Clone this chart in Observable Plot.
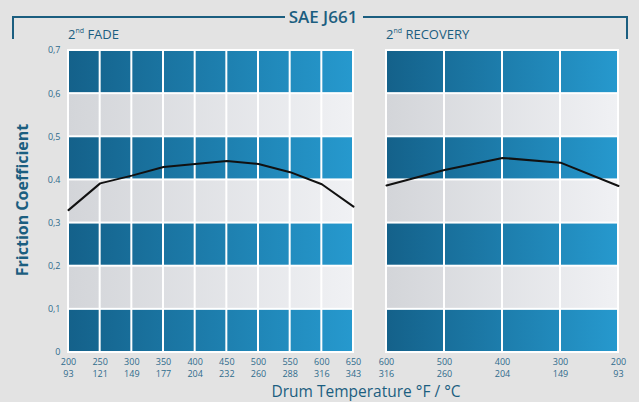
<!DOCTYPE html>
<html>
<head>
<meta charset="utf-8">
<script src="https://cdn.jsdelivr.net/npm/d3@7"></script>
<script src="https://cdn.jsdelivr.net/npm/@observablehq/plot@0.6"></script>
<style>
  html, body { margin: 0; padding: 0; }
  body { width: 639px; height: 402px; background: #e3e3e3; position: relative; overflow: hidden; font-family: "Open Sans", sans-serif; color: #1b5e80; }
  .abs { position: absolute; }
  .bracketL { left: 12px; top: 16px; width: 271px; height: 21px; border-top: 2px solid #1b5e80; border-left: 2px solid #1b5e80; }
  .bracketR { left: 363px; top: 16px; width: 263px; height: 21px; border-top: 2px solid #1b5e80; border-right: 2px solid #1b5e80; }
  .title { left: 283px; width: 80px; top: 5px; text-align: center; font-size: 17px; font-weight: 600; line-height: 24px; }
  .panelTitle { top: 25px; font-size: 13px; line-height: 18px; font-weight: 500; }
  .panelTitle sup { font-size: 7px; vertical-align: 6px; line-height: 0; }
  .ylab { left: 22px; top: 200px; transform: translate(-50%, -50%) rotate(-90deg); font-size: 16px; font-weight: 700; white-space: nowrap; }
  .xlab { left: 266px; width: 200px; top: 381px; text-align: center; font-size: 15.5px; font-weight: 500; white-space: nowrap; line-height: 20px; }
</style>
</head>
<body>
<div class="abs bracketL"></div>
<div class="abs bracketR"></div>
<div class="abs title">SAE J661</div>
<div class="abs panelTitle" style="left:68px">2<sup>nd</sup> FADE</div>
<div class="abs panelTitle" style="left:386px">2<sup>nd</sup> RECOVERY</div>
<div class="abs ylab">Friction Coefficient</div>
<div class="abs xlab">Drum Temperature °F / °C</div>
<div id="left" class="abs" style="left:0;top:0"></div>
<div id="right" class="abs" style="left:370px;top:0"></div>
<script>
// ---- data ----
const fadeTempF = [200, 250, 300, 350, 400, 450, 500, 550, 600, 650];
const fadeTempC = [93, 121, 149, 177, 204, 232, 260, 288, 316, 343];
const fadeMu = [0.33, 0.392, 0.41, 0.43, 0.437, 0.444, 0.437, 0.418, 0.39, 0.338];

const recTempF = [600, 500, 400, 300, 200];
const recTempC = [316, 260, 204, 149, 93];
const recMu = [0.387, 0.423, 0.451, 0.44, 0.386];

const yTicks = [0, 0.1, 0.2, 0.3, 0.4, 0.5, 0.6, 0.7];
const yTickLabels = ["0", "0,1", "0,2", "0,3", "0.4", "0,5", "0,6", "0,7"];
const rowBottoms = [0, 0.1, 0.2, 0.3, 0.4, 0.5, 0.6];
const rowTones = ["dark", "light", "dark", "light", "dark", "light", "dark"];

// ---- styling ----
const tickInk = "#2f6b8c";
const darkStops = ["#14618a", "#2699ce"];
const lightStops = ["#d3d5d9", "#f0f1f4"];

function cellsFor(temps) {
  const cells = [];
  for (let i = 0; i < temps.length - 1; i++) {
    rowBottoms.forEach((b, j) => {
      cells.push({x1: temps[i], x2: temps[i + 1], y1: b, y2: b + 0.1, tone: rowTones[j]});
    });
  }
  return cells;
}

function addGradients(plot, id) {
  const ns = "http://www.w3.org/2000/svg";
  const [r0, r1] = d3.extent(plot.scale("x").range);
  const defs = document.createElementNS(ns, "defs");
  for (const [name, stops] of [["dark", darkStops], ["light", lightStops]]) {
    const g = document.createElementNS(ns, "linearGradient");
    g.setAttribute("id", id + name);
    g.setAttribute("gradientUnits", "userSpaceOnUse");
    g.setAttribute("x1", r0); g.setAttribute("x2", r1);
    g.setAttribute("y1", 0); g.setAttribute("y2", 0);
    stops.forEach((c, k) => {
      const s = document.createElementNS(ns, "stop");
      s.setAttribute("offset", k);
      s.setAttribute("stop-color", c);
      g.appendChild(s);
    });
    defs.appendChild(g);
  }
  plot.insertBefore(defs, plot.firstChild);
}

function panel({id, temps, tempsC, mu, width, marginLeft, marginRight, reverse, showY}) {
  const cells = cellsFor(temps);
  const line = temps.map((t, i) => ({t, mu: mu[i]}));
  const cLabel = new Map(temps.map((t, i) => [t, tempsC[i]]));
  const domain = d3.extent(temps);
  const marks = [
    Plot.rect([{}], {x1: domain[0], x2: domain[1], y1: 0, y2: 0.7, fill: "white", inset: -1}),
    Plot.rect(cells.filter(d => d.tone === "dark"), {x1: "x1", x2: "x2", y1: "y1", y2: "y2", fill: `url(#${id}dark)`, inset: 1}),
    Plot.rect(cells.filter(d => d.tone === "light"), {x1: "x1", x2: "x2", y1: "y1", y2: "y2", fill: `url(#${id}light)`, inset: 1}),
    Plot.line(line, {x: "t", y: "mu", stroke: "#111", strokeWidth: 2}),
    Plot.axisX({ticks: temps, tickSize: 0, tickPadding: 6, fill: tickInk, fontSize: 9,
      tickFormat: t => `${t}`}),
    Plot.axisX({ticks: temps, tickSize: 0, tickPadding: 18.5, fill: tickInk, fontSize: 9,
      tickFormat: t => `${cLabel.get(t)}`})
  ];
  if (showY) {
    marks.push(Plot.axisY({ticks: yTicks, tickSize: 0, tickPadding: 8, fill: tickInk, fontSize: 9,
      tickFormat: v => yTickLabels[yTicks.findIndex(t => Math.abs(t - v) < 1e-9)]}));
  }
  const plot = Plot.plot({
    width, height: 390,
    marginTop: 50, marginBottom: 38, marginLeft, marginRight,
    style: {background: "transparent", fontFamily: "Open Sans, sans-serif", overflow: "visible"},
    x: {domain, reverse, label: null},
    y: {domain: [0, 0.7], label: null, axis: showY ? undefined : null},
    marks
  });
  addGradients(plot, id);
  return plot;
}

document.getElementById("left").appendChild(panel({
  id: "fade", temps: fadeTempF, tempsC: fadeTempC, mu: fadeMu,
  width: 370, marginLeft: 68, marginRight: 17, reverse: false, showY: true
}));
document.getElementById("right").appendChild(panel({
  id: "rec", temps: recTempF, tempsC: recTempC, mu: recMu,
  width: 269, marginLeft: 16, marginRight: 21, reverse: true, showY: false
}));
</script>
</body>
</html>
